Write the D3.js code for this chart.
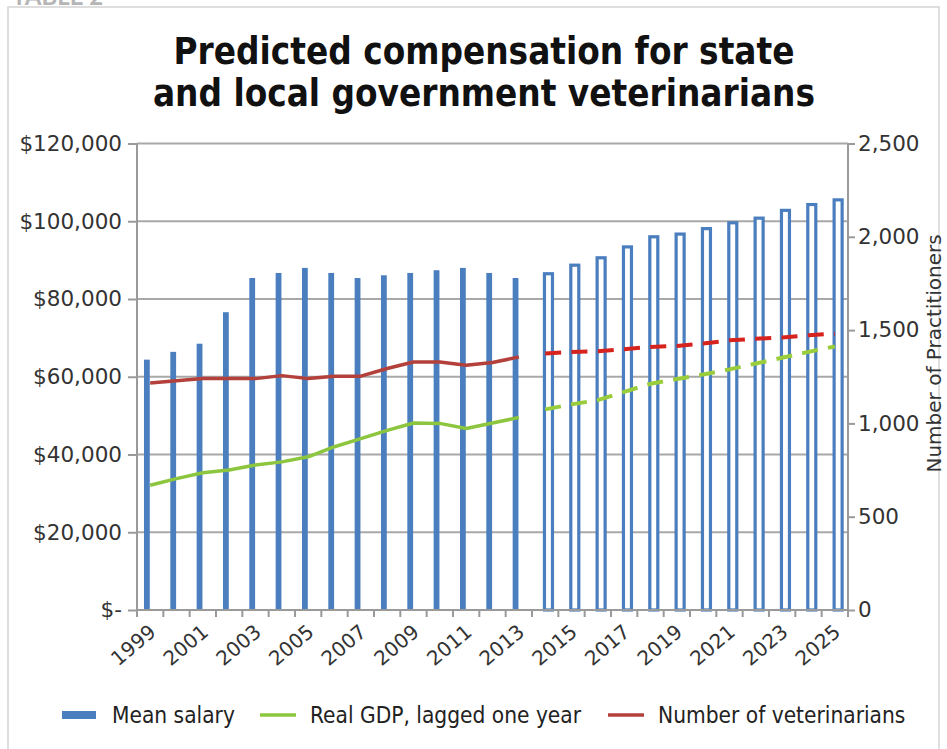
<!DOCTYPE html>
<html>
<head>
<meta charset="utf-8">
<script src="https://cdn.jsdelivr.net/npm/d3@7"></script>
<style>
  body { margin: 0; background: #fff; }
  svg { display: block; font-family: "DejaVu Sans", sans-serif; }
  .axis text { fill: #333; font-size: 21.5px; font-family: "DejaVu Sans", sans-serif; }
  .axis path, .axis line { stroke: #9a9a9a; stroke-width: 2; }
</style>
</head>
<body>
<svg id="chart"></svg>
<script>
// categories
var historyYears = ["1999","2000","2001","2002","2003","2004","2005","2006","2007","2008","2009","2010","2011","2012","2013"];
var forecastYears = ["2014","2015","2016","2017","2018","2019","2020","2021","2022","2023","2024","2025"];
var years = historyYears.concat(forecastYears);

// mean salary, dollars (solid bars = history, hollow bars = forecast)
var salaryHistory = [64400, 66400, 68500, 76600, 85400, 86700, 88000, 86700, 85400, 86100, 86700, 87400, 88000, 86700, 85400];
var salaryForecast = [86500, 88700, 90600, 93400, 96000, 96700, 98100, 99600, 100800, 102800, 104300, 105500];

// real GDP, lagged one year (left axis)
var gdpHistory = [32100, 33800, 35300, 36000, 37300, 38100, 39400, 42000, 44100, 46200, 48100, 48000, 46700, 48100, 49500];
var gdpForecast = [51600, 52900, 54000, 56100, 58200, 59400, 60600, 61900, 63400, 64900, 66400, 67800];

// number of veterinarians (right axis)
var vetsHistory = [1217, 1228, 1240, 1240, 1240, 1256, 1240, 1253, 1253, 1294, 1329, 1329, 1312, 1326, 1356];
var vetsForecast = [1374, 1383, 1387, 1397, 1410, 1415, 1428, 1445, 1454, 1460, 1472, 1481];

var leftTicks = [0, 20000, 40000, 60000, 80000, 100000, 120000];
var rightTicks = [0, 500, 1000, 1500, 2000, 2500];

var W = 947, H = 749;
var margin = { top: 143.5, right: 99, bottom: 139, left: 137 };
var width = W - margin.left - margin.right,
    height = H - margin.top - margin.bottom;

var svg = d3.select("#chart").attr("width", W).attr("height", H);

// frame + table label (cut off at the top, as in the source)
svg.append("rect")
    .attr("x", 8).attr("y", 7).attr("width", 931).attr("height", 770)
    .attr("fill", "none").attr("stroke", "#d4d4d4").attr("stroke-width", 1.5);
svg.append("text")
    .attr("x", 12).attr("y", 5)
    .style("font-family", "Lato, sans-serif").style("font-weight", "bold")
    .style("font-size", "24px").style("fill", "#b5b5b5")
    .text("TABLE 2");

// title
var title = svg.append("text")
    .attr("text-anchor", "middle")
    .style("font-family", "'DejaVu Sans Condensed', 'DejaVu Sans', sans-serif")
    .style("font-weight", "bold").style("font-size", "36.5px").style("fill", "#111");
title.append("tspan").attr("x", 484).attr("y", 64).text("Predicted compensation for state");
title.append("tspan").attr("x", 484).attr("y", 106).text("and local government veterinarians");

var g = svg.append("g").attr("transform", "translate(" + margin.left + "," + margin.top + ")");

var x = d3.scaleBand().domain(years).range([0, width]);
var sub = d3.scaleBand().domain(["history", "forecast"])
    .range([x.bandwidth() * 0.25, x.bandwidth() * 0.75]);

var y = d3.scaleLinear().domain([0, 120000]).range([height, 0]);
var yR = d3.scaleLinear().domain([0, 2500]).range([height, 0]);

// gridlines
g.append("g")
    .selectAll("line").data(leftTicks.slice(1)).enter().append("line")
    .attr("x1", 0).attr("x2", width)
    .attr("y1", d => y(d)).attr("y2", d => y(d))
    .attr("stroke", "#a8a8a8").attr("stroke-width", 2);

// bars
var barColor = "#4a7ebf";
g.append("g").selectAll("rect")
    .data(historyYears.map((yr, i) => ({ year: yr, value: salaryHistory[i] })))
    .enter().append("rect")
    .attr("x", d => x(d.year) + sub("history") + sub.bandwidth() * 0.06)
    .attr("width", sub.bandwidth() * 0.88)
    .attr("y", d => y(d.value))
    .attr("height", d => height - y(d.value))
    .attr("fill", barColor);

g.append("g").selectAll("rect")
    .data(forecastYears.map((yr, i) => ({ year: yr, value: salaryForecast[i] })))
    .enter().append("rect")
    .attr("x", d => x(d.year) + sub("forecast") + sub.bandwidth() / 2 - 4)
    .attr("width", 8)
    .attr("y", d => y(d.value))
    .attr("height", d => height - y(d.value))
    .attr("fill", "#fff")
    .attr("stroke", barColor).attr("stroke-width", 3.2);

// lines
function series(keys, vals) {
    return keys.map((k, i) => ({ year: k, value: vals[i] }));
}
var lineL = d3.line().x(d => x(d.year) + x.bandwidth() / 2).y(d => y(d.value));
var lineR = d3.line().x(d => x(d.year) + x.bandwidth() / 2).y(d => yR(d.value));

var dash = "16," + (x.bandwidth() - 16);

g.append("path").datum(series(historyYears, vetsHistory))
    .attr("d", lineR).attr("fill", "none")
    .attr("stroke", "#b3403a").attr("stroke-width", 3.5).attr("stroke-linejoin", "round");
g.append("path").datum(series(forecastYears, vetsForecast))
    .attr("d", lineR).attr("fill", "none")
    .attr("stroke", "#d6231e").attr("stroke-width", 4).attr("stroke-dasharray", dash);

g.append("path").datum(series(historyYears, gdpHistory))
    .attr("d", lineL).attr("fill", "none")
    .attr("stroke", "#8cc63e").attr("stroke-width", 3.5).attr("stroke-linejoin", "round");
g.append("path").datum(series(forecastYears, gdpForecast))
    .attr("d", lineL).attr("fill", "none")
    .attr("stroke", "#9acd3c").attr("stroke-width", 4).attr("stroke-dasharray", dash);

// axes
var money = d3.format(",");
g.append("g").attr("class", "axis")
    .call(d3.axisLeft(y).tickValues(leftTicks).tickSize(9).tickPadding(6)
        .tickFormat(d => d === 0 ? "$-" : "$" + money(d)))
    .call(a => a.select(".domain").attr("d", "M0," + height + "V0"));

g.append("g").attr("class", "axis")
    .attr("transform", "translate(" + width + ",0)")
    .call(d3.axisRight(yR).tickValues(rightTicks).tickSize(7).tickPadding(3)
        .tickFormat(d3.format(",")))
    .call(a => a.select(".domain").attr("d", "M0," + height + "V0"));

var xAxis = g.append("g").attr("class", "axis")
    .attr("transform", "translate(0," + height + ")");
xAxis.append("line").attr("x1", 0).attr("x2", width)
    .attr("stroke", "#9a9a9a").attr("stroke-width", 2);
xAxis.selectAll(".tk").data(years.concat(["end"])).enter().append("line")
    .attr("class", "tk")
    .attr("x1", (d, i) => i * x.step()).attr("x2", (d, i) => i * x.step())
    .attr("y1", 0).attr("y2", 7)
    .attr("stroke", "#9a9a9a").attr("stroke-width", 2);
xAxis.selectAll("text").data(years.filter((d, i) => i % 2 === 0)).enter().append("text")
    .attr("text-anchor", "end")
    .style("font-size", "20px")
    .attr("transform", d => "translate(" + (x(d) + x.bandwidth() / 2 + 7) + ",24) rotate(-40)")
    .text(d => d);

// right axis title
svg.append("text")
    .attr("transform", "translate(941," + (margin.top + height * 0.45) + ") rotate(-90)")
    .attr("text-anchor", "middle")
    .style("font-size", "20px").style("fill", "#333")
    .text("Number of Practitioners");

// legend
var legend = [
    { label: "Mean salary", color: barColor, type: "rect", x: 62 },
    { label: "Real GDP, lagged one year", color: "#8cc63e", type: "line", x: 260 },
    { label: "Number of veterinarians", color: "#b3403a", type: "line", x: 608 }
];
var lg = svg.append("g").attr("transform", "translate(0,715)");
legend.forEach(function (d) {
    if (d.type === "rect") {
        lg.append("rect").attr("x", d.x).attr("y", -4).attr("width", 34).attr("height", 8).attr("fill", d.color);
    } else {
        lg.append("line").attr("x1", d.x).attr("x2", d.x + 36).attr("y1", 0).attr("y2", 0)
            .attr("stroke", d.color).attr("stroke-width", 3.5);
    }
    lg.append("text").attr("x", d.x + 50).attr("y", 8)
        .style("font-family", "'DejaVu Sans Condensed', 'DejaVu Sans', sans-serif")
        .style("font-size", "22.5px").style("fill", "#222")
        .text(d.label);
});
</script>
</body>
</html>
